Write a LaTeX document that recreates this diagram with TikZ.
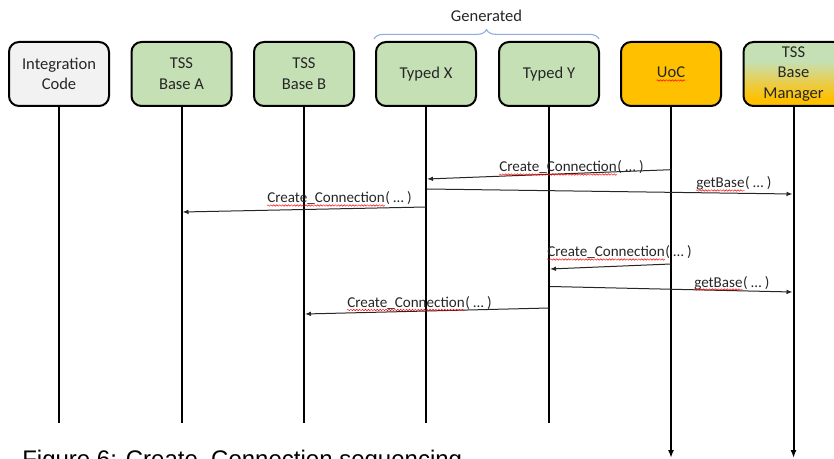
\documentclass[tikz,border=0pt]{standalone}
\usepackage{fontspec}
\setmainfont{Carlito}
\newfontfamily\capfont{Liberation Sans}
\usetikzlibrary{arrows.meta,calc,decorations.pathreplacing,decorations.pathmorphing}
\definecolor{boxgreen}{RGB}{197,224,180}
\definecolor{boxgrey}{RGB}{242,242,242}
\definecolor{uocorange}{RGB}{255,192,0}
\definecolor{bracecol}{RGB}{143,170,220}
\definecolor{inkgrey}{RGB}{38,38,38}
\definecolor{mgrmid}{RGB}{228,208,92}
% green at the top fading into orange at the bottom
\pgfdeclareverticalshading{mgrshade}{100bp}{color(0bp)=(uocorange); color(31bp)=(uocorange); color(46bp)=(mgrmid); color(60bp)=(boxgreen); color(100bp)=(boxgreen)}
\begin{document}
\begin{tikzpicture}[x=0.75pt,y=-0.75pt,
  actor/.style={draw=black, line width=1.5pt, rounded corners=7.5pt,
    minimum width=75pt, minimum height=48pt, inner sep=0pt, align=center,
    font=\fontsize{12.4}{15.5}\selectfont, text=inkgrey},
  lifeline/.style={line width=1.5pt, draw=black},
  lifearrow/.style={lifeline, -{Latex[length=6pt,width=4.5pt]}},
  msg/.style={line width=0.75pt, draw=inkgrey, -{Latex[length=4.5pt,width=3.5pt]}},
  lbl/.style={inner sep=0pt, anchor=base west, font=\fontsize{11.3}{13}\selectfont, text=inkgrey},
  squig/.style={draw=red, line width=0.35pt, decorate,
    decoration={snake, segment length=2.2pt, amplitude=0.55pt}}]
\useasboundingbox (0,0) rectangle (834,459);
\clip (0,0) rectangle (834,459);

% participants
\node[actor, fill=boxgrey]  (ic)  at (59,74)    {Integration\\Code};
\node[actor, fill=boxgreen] (ba)  at (181.5,74) {TSS\\Base A};
\node[actor, fill=boxgreen] (bb)  at (304,74)   {TSS\\Base B};
\node[actor, fill=boxgreen] (tx)  at (426,74)   {Typed X};
\node[actor, fill=boxgreen] (ty)  at (549,74)   {Typed Y};
\node[actor, fill=uocorange] (uoc) at (671,74)  {};
\node[inner sep=0pt, anchor=base, font=\fontsize{12.4}{15.5}\selectfont, text=inkgrey] (uoct) at (671,78) {UoC};
\draw[squig] ($(uoct.base west)+(0,2.5)$) -- ($(uoct.base east)+(0,2.5)$);
\node[actor, shading=mgrshade] (bm) at (793.5,74) {TSS\\Base\\Manager};

% group brace over the generated participants
\coordinate (gl) at (374,39);
\coordinate (gr) at (599,39);
\draw[bracecol, line width=0.8pt, decorate, decoration={brace, amplitude=7pt}] (gl) -- (gr);
\node[inner sep=0pt, anchor=base, font=\fontsize{12.4}{15.5}\selectfont, text=inkgrey] (gen) at (486.5,22) {Generated};

% lifelines
\coordinate (icEnd) at (59,423);
\coordinate (baEnd) at (181.5,423);
\coordinate (bbEnd) at (304,423);
\coordinate (txEnd) at (426,423);
\coordinate (tyEnd) at (549,423);
\coordinate (uocEnd) at (671,458);
\coordinate (bmEnd) at (793.5,458);
\draw[lifeline] (ic.south) -- (icEnd);
\draw[lifeline] (ba.south) -- (baEnd);
\draw[lifeline] (bb.south) -- (bbEnd);
\draw[lifeline] (tx.south) -- (txEnd);
\draw[lifeline] (ty.south) -- (tyEnd);
\draw[lifearrow] (uoc.south) -- (uocEnd);
\draw[lifearrow] (bm.south) -- (bmEnd);

% messages
\coordinate (m1a) at (671,169.7); \coordinate (m1b) at (427,179);
\coordinate (m2a) at (427,189);   \coordinate (m2b) at (792.5,194);
\coordinate (m3a) at (426,207);   \coordinate (m3b) at (182.5,212);
\coordinate (m4a) at (671,264);   \coordinate (m4b) at (550,269);
\coordinate (m5a) at (550,286.5); \coordinate (m5b) at (792.5,292);
\coordinate (m6a) at (549,308);   \coordinate (m6b) at (305,314);
\draw[msg] (m1a) -- (m1b);
\draw[msg] (m2a) -- (m2b);
\draw[msg] (m3a) -- (m3b);
\draw[msg] (m4a) -- (m4b);
\draw[msg] (m5a) -- (m5b);
\draw[msg] (m6a) -- (m6b);

% message labels
\node[lbl] (l1) at (499,172) {Create\_Connection};
\node[lbl] (l1r) at (l1.base east) {( … )};
\node[lbl] (l2) at (696,188) {getBase};
\node[lbl] (l2r) at (l2.base east) {( … )};
\node[lbl] (l3) at (267,203) {Create\_Connection};
\node[lbl] (l3r) at (l3.base east) {( … )};
\node[lbl] (l4) at (547,257) {Create\_Connection};
\node[lbl] (l4r) at (l4.base east) {( … )};
\node[lbl] (l5) at (694,287) {getBase};
\node[lbl] (l5r) at (l5.base east) {( … )};
\node[lbl] (l6) at (347,307.5) {Create\_Connection};
\node[lbl] (l6r) at (l6.base east) {( … )};
\foreach \l in {l1,l2,l3,l4,l5,l6}
  \draw[squig] ($(\l.base west)+(0,2.5)$) -- ($(\l.base east)+(0,2.5)$);

% caption
\node[inner sep=0pt, anchor=base west, font=\capfont\fontsize{18}{20}\selectfont] (cap) at (22,467) {Figure 6: Create\_Connection sequencing};
\end{tikzpicture}
\end{document}
